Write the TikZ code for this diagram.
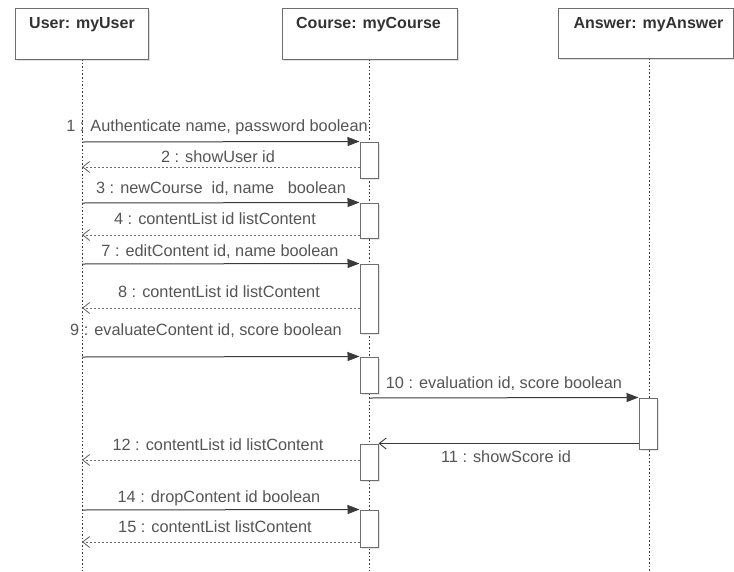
\documentclass[tikz,border=0pt]{standalone}
\usepackage{fontspec}
\setmainfont{Liberation Sans}
\usetikzlibrary{arrows.meta,shadows}
\definecolor{txt}{HTML}{555555}
\definecolor{hdtxt}{HTML}{333333}
\definecolor{ln}{HTML}{3A3A3A}
\definecolor{bx}{HTML}{6E6E6E}
\tikzset{
  hdr/.style={draw=bx, line width=1pt, fill=white, rectangle, inner sep=0pt,
    drop shadow={shadow xshift=2pt, shadow yshift=-2pt, opacity=0.25, fill=gray}},
  hdrtxt/.style={font=\fontsize{16}{19}\selectfont\bfseries, text=hdtxt, inner sep=0pt},
  life/.style={draw=ln, line width=0.8pt, dash pattern=on 1.6pt off 2pt},
  actbox/.style={draw=bx, line width=1pt, fill=white, rectangle, inner sep=0pt,
    minimum width=18pt,
    drop shadow={shadow xshift=1.5pt, shadow yshift=-1.5pt, opacity=0.2, fill=gray}},
  callmsg/.style={draw=ln, line width=1pt, -{Triangle[length=12pt,width=9pt]}},
  retmsg/.style={draw=ln!75, line width=0.9pt, dash pattern=on 2pt off 2pt,
    -{Straight Barb[length=7pt,width=11pt,line width=0.9pt]}},
  retsolid/.style={draw=ln, line width=1pt,
    -{Straight Barb[length=7pt,width=11pt,line width=0.9pt]}},
  lbl/.style={font=\fontsize{16.3}{19}\selectfont, text=txt, inner sep=0pt},
}
\begin{document}
\begin{tikzpicture}[x=1pt,y=-1pt]
\useasboundingbox (0,0) rectangle (734,571);

% lifelines
\coordinate (uTop) at (82,59);
\coordinate (uBot) at (82,571);
\coordinate (cTop) at (369,59);
\coordinate (cBot) at (369,571);
\coordinate (aTop) at (649,58);
\coordinate (aBot) at (649,571);
\draw[life] (uTop) -- (uBot);
\draw[life] (cTop) -- (cBot);
\draw[life] (aTop) -- (aBot);

% header boxes
\node[hdr, minimum width=133pt, minimum height=51pt] (user) at (81.5,33.5) {};
\node[hdr, minimum width=175pt, minimum height=51pt] (course) at (369.5,33.5) {};
\node[hdr, minimum width=175pt, minimum height=50pt] (answer) at (645.5,33) {};
\node[hdrtxt] (userT) at (82,25) {User: myUser};
\node[hdrtxt] (courseT) at (368.5,25) {Course: myCourse};
\node[hdrtxt] (answerT) at (648.5,25) {Answer: myAnswer};

% activation boxes
\node[actbox, minimum height=36pt] (c1) at (369,160) {};
\node[actbox, minimum height=35pt] (c2) at (369,220.5) {};
\node[actbox, minimum height=69pt] (c3) at (369,298.5) {};
\node[actbox, minimum height=36pt] (c4) at (369,375) {};
\node[actbox, minimum height=51pt] (a1) at (648,423.5) {};
\node[actbox, minimum height=36pt] (c5) at (369,462) {};
\node[actbox, minimum height=37pt] (c6) at (369,528.5) {};

% message endpoints on the user lifeline
\coordinate (u1) at (82,142);
\coordinate (u2) at (82,167);
\coordinate (u3) at (82,203);
\coordinate (u4) at (82,235);
\coordinate (u7) at (82,264);
\coordinate (u8) at (82,308);
\coordinate (u9) at (82,357);
\coordinate (u12) at (82,460);
\coordinate (u14) at (82,510);
\coordinate (u15) at (82,542);
\coordinate (c10) at (369,398);

% messages
\draw[callmsg] (u1) -- (c1.north west);
\draw[retmsg] (c1.west |- u2) -- (u2);
\draw[callmsg] (u3) -- (c2.north west);
\draw[retmsg] (c2.west |- u4) -- (u4);
\draw[callmsg] (u7) -- (c3.north west);
\draw[retmsg] (c3.west |- u8) -- (u8);
\draw[callmsg] (u9) -- (c4.north west);
\draw[callmsg] (c10) -- (a1.north west);
\draw[retsolid] (a1.west |- c5.north) -- (c5.north east);
\draw[retmsg] (c5.west |- u12) -- (u12);
\draw[callmsg] (u14) -- (c6.north west);
\draw[retmsg] (c6.west |- u15) -- (u15);

% labels
\node[lbl] (l1) at (217,127) {1 : Authenticate name, password boolean};
\node[lbl] (l2) at (218,157) {2 : showUser id};
\node[lbl] (l3) at (221,189) {3 : newCourse \ id, name \ \ boolean};
\node[lbl] (l4) at (215,219) {4 : contentList id listContent};
\node[lbl] (l7) at (220,252) {7 : editContent id, name boolean};
\node[lbl] (l8) at (219,292) {8 : contentList id listContent};
\node[lbl] (l9) at (206,331) {9 : evaluateContent id, score boolean};
\node[lbl] (l10) at (504,384) {10 : evaluation id, score boolean};
\node[lbl] (l11) at (506,457) {11 : showScore id};
\node[lbl] (l12) at (218,445) {12 : contentList id listContent};
\node[lbl] (l14) at (219,498) {14 : dropContent id boolean};
\node[lbl] (l15) at (215,527) {15 : contentList listContent};
\end{tikzpicture}
\end{document}
